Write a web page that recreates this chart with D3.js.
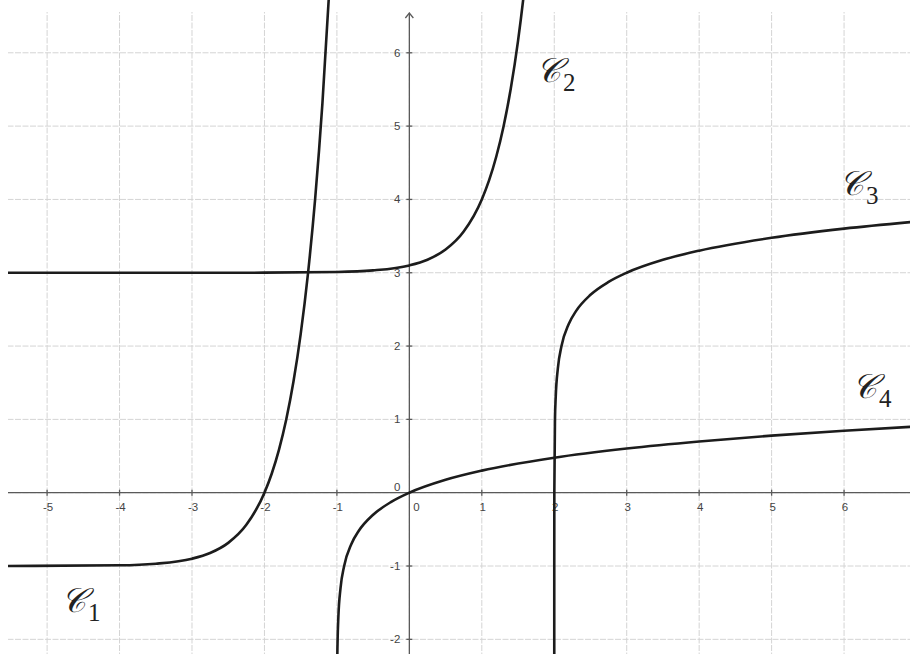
<!DOCTYPE html>
<meta charset="utf-8">
<style>
    body { margin: 0; background: #fff; }
    svg { display: block; background: #fff; }
    .grid line { stroke: #d4d4d4; stroke-width: 1; stroke-dasharray: 6,1.5; }
    .axis line, .axis path { stroke: #5a5a5a; stroke-width: 1.3; fill: none; }
    .tick-label { font: 11.5px "Liberation Sans", Arial, sans-serif; fill: #444; }
    .curve { fill: none; stroke: #1c1c1c; stroke-width: 2.6; }
    .name { font-family: "DejaVu Serif", "Liberation Serif", serif; fill: #222; }
</style>
<body>
<script src="https://cdn.jsdelivr.net/npm/d3@7"></script>
<script>

    var width = 910,
        height = 654;

    // tick values
    var xTicks = [-5, -4, -3, -2, -1, 0, 1, 2, 3, 4, 5, 6];
    var yTicks = [-2, -1, 0, 1, 2, 3, 4, 5, 6];

    // curves, points
    var c1X = [-5.65, -4, -3.5, -3, -2.75, -2.5, -2.25, -2, -1.9, -1.8, -1.7, -1.6, -1.5, -1.4, -1.3, -1.2, -1.1];
    var c1Y = [-1, -0.99, -0.968, -0.9, -0.822, -0.684, -0.438, 0, 0.259, 0.585, 0.995, 1.512, 2.162, 2.981, 4.012, 5.31, 6.943];

    var c2X = [-5.65, -3, -2, -1, -0.5, 0, 0.25, 0.5, 0.75, 1, 1.1, 1.2, 1.3, 1.4, 1.5, 1.6, 1.7];
    var c2Y = [3, 3, 3.001, 3.01, 3.032, 3.1, 3.178, 3.316, 3.562, 4, 4.259, 4.585, 4.995, 5.512, 6.162, 6.981, 8.01];

    var c3X = [2.000001, 2.00001, 2.0001, 2.001, 2.01, 2.02, 2.05, 2.1, 2.2, 2.3, 2.5, 2.75, 3, 3.5, 4, 5, 6, 7];
    var c3Y = [-3, -2, -1, 0, 1, 1.301, 1.699, 2, 2.301, 2.477, 2.699, 2.875, 3, 3.176, 3.301, 3.477, 3.602, 3.699];

    var c4X = [-0.9999, -0.999, -0.995, -0.99, -0.98, -0.95, -0.9, -0.8, -0.7, -0.5, -0.25, 0, 0.5, 1, 2, 3, 4, 5, 6, 7];
    var c4Y = [-4, -3, -2.3, -2, -1.699, -1.301, -1, -0.699, -0.523, -0.301, -0.125, 0, 0.176, 0.301, 0.477, 0.602, 0.699, 0.778, 0.845, 0.903];

    var names = ["1", "2", "3", "4"];
    var nameX = [61, 536, 839, 852];   // left edge of the script C
    var nameY = [612, 82, 195, 398];   // baseline

    var x = d3.scaleLinear().domain([-5.65, 6.91]).range([0, width]);
    var y = d3.scaleLinear().domain([6.72, -2.2]).range([0, height]);

    var svg = d3.select("body").append("svg")
        .attr("width", width)
        .attr("height", height);

    var defs = svg.append("defs");
    defs.append("clipPath").attr("id", "gridclip")
        .append("rect").attr("x", 8).attr("y", 12).attr("width", width - 8).attr("height", height - 12);
    defs.append("clipPath").attr("id", "curveclip")
        .append("rect").attr("x", 8).attr("y", 0).attr("width", width - 8).attr("height", height);

    // grid
    var grid = svg.append("g").attr("class", "grid").attr("clip-path", "url(#gridclip)");
    grid.selectAll("line.v").data(xTicks).enter().append("line")
        .attr("class", "v")
        .attr("x1", function(d){ return x(d); }).attr("x2", function(d){ return x(d); })
        .attr("y1", 0).attr("y2", height);
    grid.selectAll("line.h").data(yTicks).enter().append("line")
        .attr("class", "h")
        .attr("x1", 0).attr("x2", width)
        .attr("y1", function(d){ return y(d); }).attr("y2", function(d){ return y(d); });

    // axes
    var axis = svg.append("g").attr("class", "axis");
    axis.append("line")
        .attr("x1", 8).attr("x2", width)
        .attr("y1", y(0)).attr("y2", y(0));
    axis.append("line")
        .attr("x1", x(0)).attr("x2", x(0))
        .attr("y1", 13).attr("y2", height);
    axis.append("path")
        .attr("d", "M" + (x(0) - 4) + "," + 18 + "L" + x(0) + "," + 13 + "L" + (x(0) + 4) + "," + 18);

    axis.selectAll("line.xt").data(xTicks.filter(function(d){ return d != 0; })).enter().append("line")
        .attr("class", "xt")
        .attr("x1", function(d){ return x(d); }).attr("x2", function(d){ return x(d); })
        .attr("y1", y(0) - 3).attr("y2", y(0) + 3);
    axis.selectAll("line.yt").data(yTicks.filter(function(d){ return d != 0; })).enter().append("line")
        .attr("class", "yt")
        .attr("x1", x(0) - 3).attr("x2", x(0) + 3)
        .attr("y1", function(d){ return y(d); }).attr("y2", function(d){ return y(d); });

    // tick labels
    svg.selectAll("text.xl").data(xTicks).enter().append("text")
        .attr("class", "tick-label xl")
        .attr("x", function(d){ return d == 0 ? x(0) + 7 : x(d) + 1; })
        .attr("y", y(0) + 18)
        .attr("text-anchor", "middle")
        .text(function(d){ return d < 0 ? "-" + Math.abs(d) : d; });
    svg.selectAll("text.yl").data(yTicks).enter().append("text")
        .attr("class", "tick-label yl")
        .attr("x", x(0) - 9)
        .attr("y", function(d){ return d == 0 ? y(0) - 2 : y(d) + 4; })
        .attr("text-anchor", "end")
        .text(function(d){ return d < 0 ? "-" + Math.abs(d) : d; });

    // curves
    var line = d3.line()
        .x(function(d){ return x(d[0]); })
        .y(function(d){ return y(d[1]); })
        .curve(d3.curveMonotoneX);

    var curves = [d3.zip(c1X, c1Y), d3.zip(c2X, c2Y), d3.zip(c3X, c3Y), d3.zip(c4X, c4Y)];
    svg.append("g").attr("clip-path", "url(#curveclip)")
        .selectAll("path").data(curves).enter().append("path")
        .attr("class", "curve")
        .attr("d", line);

    // curve names
    var lab = svg.selectAll("g.name").data(names).enter().append("g")
        .attr("class", "name");
    lab.append("text")
        .attr("x", function(d, i){ return nameX[i]; })
        .attr("y", function(d, i){ return nameY[i]; })
        .style("font-size", "34px")
        .style("font-style", "italic")
        .text("\uD835\uDC9E");
    lab.append("text")
        .attr("x", function(d, i){ return nameX[i] + 27; })
        .attr("y", function(d, i){ return nameY[i] + 9; })
        .style("font-family", "'Liberation Serif', serif")
        .style("font-size", "25px")
        .text(function(d){ return d; });

</script>
